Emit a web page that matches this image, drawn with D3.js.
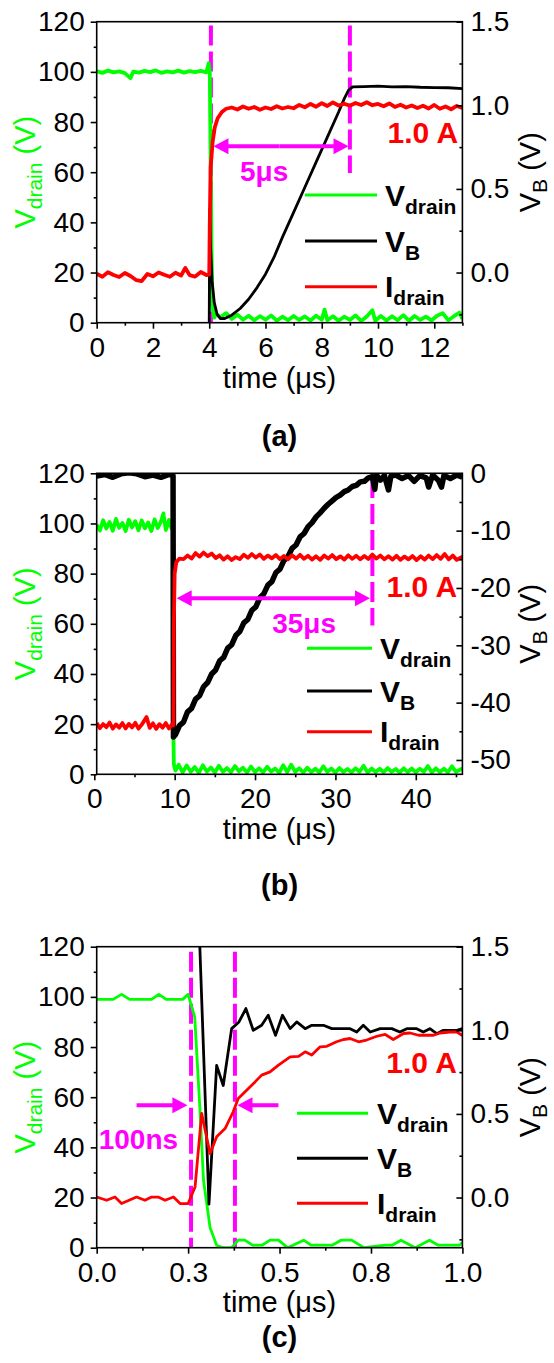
<!DOCTYPE html>
<html>
<head>
<meta charset="utf-8">
<script src="https://cdn.jsdelivr.net/npm/d3@7"></script>
<style>
  body { margin: 0; background: #fff; }
  svg text { font-family: "Liberation Sans", Arial, sans-serif; }
</style>
</head>
<body>
<svg id="fig" width="554" height="1363"></svg>
<script>
// ---------- panel (a) : 0..13 us ----------
const aVdrain = [[0,100.3],[0.2,99.6],[0.4,100.5],[0.6,99.8],[0.8,100.2],[1.0,99.5],[1.2,97.5],[1.3,100.1],[1.5,99.7],[1.7,100.4],[1.9,99.9],[2.1,100.6],[2.3,99.6],[2.5,100.2],[2.7,99.8],[2.9,100.5],[3.1,99.7],[3.3,100.3],[3.5,99.9],[3.7,100.4],[3.9,99.8],[3.98,103.5],[4.02,100],[4.05,66],[4.08,30],[4.12,6],[4.18,2],
  [4.25,3.5],[4.4,2.2],[4.6,3.8],[4.8,1.5],[5.0,3.2],[5.2,1.2],[5.4,2.8],[5.6,1.0],[5.8,2.6],[6.0,1.2],[6.2,2.9],[6.4,0.8],[6.6,2.4],[6.8,1.0],[7.0,2.7],[7.2,1.1],[7.4,2.5],[7.6,0.9],[7.8,2.8],[8.0,1.2],[8.1,5.2],[8.2,1.0],[8.4,2.6],[8.6,0.8],[8.8,2.4],[9.0,1.1],[9.2,2.9],[9.4,0.7],[9.6,2.5],[9.8,5.0],[9.9,0.8],[10.1,2.7],[10.3,0.9],[10.5,2.6],[10.7,1.0],[10.9,3.0],[11.1,0.8],[11.3,2.7],[11.5,1.1],[11.7,2.4],[11.9,0.9],[12.1,2.8],[12.3,3.8],[12.5,1.0],[12.7,2.6],[12.9,4.0],[13.0,1.5]];
const aIdrain = [[0,19.5],[0.2,18.3],[0.4,20.1],[0.6,19.0],[0.8,18.2],[1.0,19.8],[1.2,18.6],[1.4,17.0],[1.6,16.6],[1.8,19.4],[2.0,18.5],[2.2,20.0],[2.4,19.1],[2.6,18.3],[2.8,19.9],[3.0,18.8],[3.15,21.8],[3.3,19.0],[3.5,18.4],[3.7,20.2],[3.9,19.0],[4.0,19.2],[4.02,40],[4.05,62],[4.08,66],[4.12,72],[4.2,78],[4.3,81.5],[4.45,84],[4.6,85.3],[4.8,85.8],
  [5.0,85.0],[5.2,86.2],[5.4,85.3],[5.6,86.0],[5.8,84.9],[6.0,85.8],[6.2,85.2],[6.4,86.3],[6.6,85.4],[6.8,86.0],[7.0,85.5],[7.2,86.8],[7.4,85.9],[7.6,87.2],[7.8,86.1],[8.0,87.5],[8.2,86.4],[8.4,87.8],[8.6,86.6],[8.8,87.3],[9.0,86.5],[9.2,87.6],[9.4,86.8],[9.6,87.9],[9.8,86.7],[10.0,87.2],[10.2,86.3],[10.4,87.4],[10.6,86.0],[10.8,86.9],[11.0,85.8],[11.2,86.6],[11.4,85.6],[11.6,86.5],[11.8,85.4],[12.0,86.8],[12.2,85.3],[12.4,86.2],[12.6,85.1],[12.8,86.4],[13.0,85.6]];
const aVB = [[4.0,-0.3],[4.02,0.38],[4.05,0.15],[4.1,-0.05],[4.18,-0.18],[4.28,-0.25],[4.4,-0.275],[4.55,-0.275],[4.8,-0.255],[5.1,-0.215],[5.4,-0.16],[5.7,-0.09],[6.0,-0.01],[6.3,0.09],[6.6,0.21],[7.0,0.36],[7.4,0.51],[7.8,0.66],[8.2,0.81],[8.6,0.96],[8.8,1.04],[8.95,1.09],[9.1,1.11],[9.5,1.112],[10,1.115],[10.5,1.11],[11,1.112],[11.5,1.108],[12,1.106],[12.5,1.105],[13,1.1]];

// ---------- panel (b) : 0..45.8 us ----------
const bVdrain = [[0.3,99.5],[0.7,97.2],[1.1,101.3],[1.5,98.0],[1.9,100.6],[2.3,97.1],[2.7,101.8],[3.1,98.3],[3.5,100.2],[3.9,97.0],[4.3,101.5],[4.7,98.4],[5.1,100.9],[5.5,97.3],[5.9,101.2],[6.3,98.1],[6.7,100.4],[7.1,97.0],[7.5,101.6],[7.9,98.2],[8.3,100.8],[8.6,104.0],[8.9,97.4],[9.3,101.4],[9.6,98.0],[9.8,100.5],[9.85,15],[9.9,4],[10.1,1.5],
  [10.5,3.8],[11.0,0.8],[11.5,3.5],[12.0,1.0],[12.5,2.9],[13.0,0.6],[13.5,3.6],[14.0,1.1],[14.5,2.7],[15.0,0.7],[15.5,3.4],[16.0,1.0],[16.5,2.5],[17.0,0.8],[17.5,3.3],[18.0,1.2],[18.5,2.6],[19.0,0.7],[19.5,3.1],[20.0,0.9],[20.5,2.4],[21.0,0.8],[21.5,3.0],[22.0,1.1],[22.5,2.3],[23.0,0.6],[23.5,3.6],[24.0,0.9],[24.5,3.8],[25.0,1.0],[25.5,2.4],[26.0,0.7],[26.5,2.6],[27.0,0.9],[27.5,2.2],[28.0,0.8],[28.5,3.2],[29.0,1.0],[29.5,2.3],[30.0,0.7],[30.5,2.5],[31.0,0.9],[31.5,2.1],[32.0,0.8],[32.5,2.4],[33.0,1.0],[33.5,3.4],[34.0,0.7],[34.5,2.3],[35.0,0.9],[35.5,2.2],[36.0,0.8],[36.5,2.5],[37.0,1.0],[37.5,2.1],[38.0,0.7],[38.5,2.4],[39.0,0.9],[39.5,2.3],[40.0,0.8],[40.5,2.2],[41.0,1.0],[41.5,3.3],[42.0,0.7],[42.5,2.4],[43.0,0.9],[43.5,2.2],[44.0,0.8],[44.5,3.2],[45.0,1.0],[45.8,2.3]];
const bIdrain = [[0.3,20.5],[0.7,18.4],[1.1,20.0],[1.5,18.8],[1.9,20.6],[2.3,18.2],[2.7,19.9],[3.1,18.6],[3.5,20.4],[3.9,18.3],[4.3,20.1],[4.7,18.7],[5.1,20.5],[5.5,18.2],[5.9,19.8],[6.5,22.8],[6.9,18.5],[7.3,20.3],[7.7,18.1],[8.1,20.0],[8.5,18.6],[8.9,20.4],[9.3,18.3],[9.7,20.0],[9.85,19.5],[9.9,60],[10.0,80],[10.2,84.5],[10.6,86],[11.1,85.8],
  [11.6,87.2],[12.1,86.0],[12.6,88.2],[13.1,86.8],[13.6,88.4],[14.1,87.0],[14.6,88.0],[15.1,86.2],[15.6,87.3],[16.1,85.6],[16.6,86.9],[17.1,85.4],[17.6,86.6],[18.1,85.8],[18.6,87.5],[19.1,86.3],[19.6,87.8],[20.1,86.4],[20.6,87.6],[21.1,85.9],[21.6,87.2],[22.1,86.1],[22.6,87.4],[23.1,85.8],[23.6,87.0],[24.1,85.7],[24.6,87.3],[25.1,86.0],[25.6,87.5],[26.1,85.9],[26.6,87.1],[27.1,85.6],[27.6,86.9],[28.1,85.5],[28.6,87.2],[29.1,86.0],[29.6,87.4],[30.1,85.8],[30.6,86.9],[31.1,85.6],[31.6,87.3],[32.1,85.9],[32.6,87.1],[33.1,85.7],[33.6,87.0],[34.1,85.8],[34.6,87.6],[35.1,86.0],[35.6,87.2],[36.1,85.7],[36.6,86.9],[37.1,85.6],[37.6,87.1],[38.1,85.5],[38.6,86.8],[39.1,85.7],[39.6,87.0],[40.1,85.4],[40.6,86.9],[41.1,85.6],[41.6,87.2],[42.1,85.8],[42.6,87.4],[43.1,85.9],[43.6,87.8],[44.1,85.7],[44.6,87.2],[45.1,85.5],[45.8,86.8]];
const bVB = [[0.3,-0.5],[1.3,-0.2],[2.3,-0.7],[3.3,-0.1],[4.3,0.1],[5.3,-0.1],[6.3,-0.6],[7.3,-0.3],[8.3,-0.7],[9.3,-0.2],[9.8,-0.4],
  [9.85,-46.0],[10.1,-45.6],[10.6,-44.0],[11.1,-43.4],[11.6,-41.6],[12.1,-41.0],[12.6,-39.4],[13.1,-38.8],[13.6,-37.2],[14.1,-36.5],[14.6,-35.0],[15.1,-34.3],[15.6,-32.7],[16.1,-32.1],[16.6,-30.5],[17.1,-29.9],[17.6,-28.3],[18.1,-27.6],[18.6,-26.1],[19.1,-25.5],[19.6,-23.9],[20.1,-23.3],[20.6,-21.7],[21.1,-21.0],[21.6,-19.5],[22.1,-18.9],[22.6,-17.3],[23.1,-16.7],[23.6,-15.2],[24.1,-14.5],[24.6,-13.1],[25.1,-12.5],[25.6,-11.1],[26.1,-10.5],[26.6,-9.3],[27.1,-8.6],[27.6,-7.6],[28.1,-6.9],[28.6,-6.1],[29.1,-5.4],[29.6,-4.8],[30.1,-4.2],[30.6,-3.8],[31.1,-3.2],[31.6,-2.9],[32.1,-2.3],[32.6,-2.1],[33.1,-1.5],[33.6,-1.4],[34.1,-0.8],[34.6,-0.6],
  [34.9,-2.8],[35.1,-0.3],[35.6,-1.2],[36.1,-0.4],[36.6,-2.9],[36.9,-0.5],[37.5,-0.3],[38.3,-0.9],[39.1,-0.4],[39.8,-1.4],[40.5,-0.4],[41.3,-0.8],[41.6,-2.4],[42.1,-0.3],[42.8,-1.2],[43.2,-2.4],[43.5,-0.4],[44.3,-0.9],[45.1,-0.3],[45.8,-0.7]];

// ---------- panel (c) : 0..1 us ----------
const cVdrain = [[0,99],[0.045,99],[0.068,101],[0.09,99],[0.15,99],[0.17,101],[0.19,99],[0.235,99],[0.25,101],[0.268,92],[0.282,56],[0.292,27],[0.31,8],[0.328,1],[0.346,0],[0.369,0],[0.387,3],[0.405,3],[0.426,1],[0.452,1],[0.474,3],[0.497,3],[0.522,0],[0.566,3],[0.586,1],[0.644,1],[0.668,3],[0.697,3],[0.731,0],[0.789,1],[0.808,1],[0.832,3],[0.871,0],[0.91,3],[0.934,1],[0.992,1],[1.0,2]];
const cIdrain = [[0,20.2],[0.027,18.9],[0.05,20.2],[0.068,17.6],[0.109,20.2],[0.132,18.9],[0.15,20.2],[0.168,20.2],[0.187,18.9],[0.21,20.2],[0.228,17.6],[0.25,17.6],[0.269,24.2],[0.287,53.5],[0.31,37.5],[0.328,44.2],[0.351,47.5],[0.373,54.1],[0.387,59.5],[0.41,62.8],[0.433,66.1],[0.451,68.8],[0.474,70.1],[0.497,72.8],[0.529,76.1],[0.552,76.3],[0.57,78.1],[0.588,76.8],[0.611,80.1],[0.629,80.3],[0.656,82.1],[0.675,83.0],[0.693,83.4],[0.716,82.1],[0.738,82.8],[0.766,84.3],[0.789,85.0],[0.811,83.0],[0.839,85.4],[0.857,85.6],[0.88,84.7],[0.921,84.7],[0.939,85.6],[0.966,86.0],[0.985,86.0],[1.0,84.6]];
const cVB = [[0.27,1.8],[0.282,1.5],[0.307,-0.04],[0.328,0.79],[0.346,0.67],[0.369,1.01],[0.389,1.05],[0.408,1.13],[0.428,1.0],[0.451,1.03],[0.469,1.09],[0.489,0.97],[0.508,1.09],[0.529,1.01],[0.547,1.05],[0.57,1.01],[0.588,1.03],[0.62,1.03],[0.643,1.01],[0.693,1.01],[0.711,0.99],[0.729,1.03],[0.748,0.99],[0.775,1.01],[0.807,1.01],[0.829,0.99],[0.848,1.01],[0.875,1.01],[0.893,0.99],[0.911,1.01],[0.93,0.98],[0.948,1.0],[0.966,1.0],[0.985,1.0],[1.0,1.01]];

// axis ticks
const leftTicks = [0, 20, 40, 60, 80, 100, 120];
const leftMinor = [10, 30, 50, 70, 90, 110];
const aXTicks = [0, 2, 4, 6, 8, 10, 12], aXMinor = [1, 3, 5, 7, 9, 11, 13];
const bXTicks = [0, 10, 20, 30, 40], bXMinor = [5, 15, 25, 35, 45];
const cXTicks = [0, 0.25, 0.5, 0.75, 1.0], cXMinor = [0.125, 0.375, 0.625, 0.875];
const acRTicks = [0, 0.5, 1.0, 1.5], acRMinor = [-0.25, 0.25, 0.75, 1.25];
const bRTicks = [-50, -40, -30, -20, -10, 0], bRMinor = [-45, -35, -25, -15, -5];

const GREEN = "#00ff00", RED = "#ff0000", MAG = "#ff00ff";
const L = 96.7, R = 462.4, H = 301;
const FS = 28;

const svg = d3.select("#fig");

const panels = [
  { name: "(a)", top: 21.7, xDom: [0, 13], xT: aXTicks, xM: aXMinor, xF: d3.format("d"),
    rDom: [-0.3, 1.5], rT: acRTicks, rM: acRMinor, rF: d3.format(".1f"),
    green: aVdrain, red: aIdrain, black: aVB, wG: 3.8, wR: 3.8, wB: 2.8,
    dashes: [[4.06, 118.5, 0], [9.0, 118.5, 59.7]],
    arrows: [[6.5, 4.15, 70.3], [6.5, 8.95, 70.3]],
    note: ["5μs", 5.95, 56.4], amp: [12.85, 71.6],
    leg: { x1: 305, x2: 377, tx: 385, ys: [195, 241, 286.7] },
    labelY: 446, titleY: 388 },
  { name: "(b)", top: 473.3, xDom: [0.3, 45.8], xT: bXTicks, xM: bXMinor, xF: d3.format("d"),
    rDom: [-52.5, 0], rT: bRTicks, rM: bRMinor, rF: d => String(d),
    green: bVdrain, red: bIdrain, black: bVB, wG: 3.8, wR: 3.8, wB: 5.5,
    dashes: [[34.6, 118.1, 59.3]],
    arrows: [[22, 10.25, 70.2], [22, 34.3, 70.2]],
    note: ["35μs", 26.1, 56.3], amp: [45.15, 70.8],
    leg: { x1: 307, x2: 372, tx: 380, ys: [648.3, 691, 731.7] },
    labelY: 895, titleY: 839 },
  { name: "(c)", top: 946.7, xDom: [0, 1], xT: cXTicks, xM: cXMinor, xF: d3.format(".1f"),
    rDom: [-0.3, 1.5], rT: acRTicks, rM: acRMinor, rF: d3.format(".1f"),
    green: cVdrain, red: cIdrain, black: cVB, wG: 2.8, wR: 2.8, wB: 2.8,
    dashes: [[0.258, 118, 0], [0.378, 118, 0]],
    arrows: [[0.109, 0.248, 56.8], [0.497, 0.385, 56.8]],
    note: ["100ns", 0.114, 39.5], amp: [0.985, 69.5],
    leg: { x1: 297, x2: 368, tx: 377, ys: [1113.3, 1158.3, 1203.3] },
    labelY: 1347, titleY: 1312 }
];

panels.forEach((p, i) => drawPanel(p, i));

function drawPanel(p, i) {
  const x = d3.scaleLinear().domain(p.xDom).range([L, R]);
  const yL = d3.scaleLinear().domain([0, 120]).range([p.top + H, p.top]);
  const yR = d3.scaleLinear().domain(p.rDom).range([p.top + H, p.top]);
  const g = svg.append("g");

  g.append("clipPath").attr("id", "clip" + i)
    .append("rect").attr("x", L).attr("y", p.top).attr("width", R - L).attr("height", H);
  const plot = g.append("g").attr("clip-path", `url(#clip${i})`);

  // dashed guide lines
  p.dashes.forEach(d => {
    plot.append("line")
      .attr("x1", x(d[0])).attr("x2", x(d[0]))
      .attr("y1", yL(d[1])).attr("y2", yL(d[2]))
      .attr("stroke", MAG).attr("stroke-width", 4).attr("stroke-dasharray", "20,6");
  });

  const lineL = d3.line().x(d => x(d[0])).y(d => yL(d[1]));
  const lineR = d3.line().x(d => x(d[0])).y(d => yR(d[1]));

  plot.append("path").datum(p.green).attr("d", lineL)
    .attr("fill", "none").attr("stroke", GREEN).attr("stroke-width", p.wG).attr("stroke-linejoin", "round");
  plot.append("path").datum(p.black).attr("d", lineR)
    .attr("fill", "none").attr("stroke", "#000").attr("stroke-width", p.wB).attr("stroke-linejoin", "round");
  plot.append("path").datum(p.red).attr("d", lineL)
    .attr("fill", "none").attr("stroke", RED).attr("stroke-width", p.wR).attr("stroke-linejoin", "round");

  // arrows
  p.arrows.forEach(a => {
    const x0 = x(a[0]), x1 = x(a[1]), yy = yL(a[2]);
    const dir = Math.sign(x1 - x0);
    g.append("line").attr("x1", x0).attr("x2", x1 - dir * 10).attr("y1", yy).attr("y2", yy)
      .attr("stroke", MAG).attr("stroke-width", 4);
    g.append("path")
      .attr("d", `M${x1},${yy} L${x1 - dir * 15},${yy - 8} L${x1 - dir * 15},${yy + 8} Z`)
      .attr("fill", MAG);
  });

  g.append("text").attr("x", x(p.note[1])).attr("y", yL(p.note[2]))
    .attr("text-anchor", "middle").attr("font-size", 28).attr("font-weight", "bold")
    .attr("fill", MAG).text(p.note[0]);
  g.append("text").attr("x", x(p.amp[0])).attr("y", yL(p.amp[1]))
    .attr("text-anchor", "end").attr("font-size", 30).attr("font-weight", "bold")
    .attr("fill", RED).text("1.0 A");

  // legend
  const items = [["V", "drain", GREEN], ["V", "B", "#000"], ["I", "drain", RED]];
  items.forEach((it, k) => {
    const ly = p.leg.ys[k];
    g.append("line").attr("x1", p.leg.x1).attr("x2", p.leg.x2).attr("y1", ly).attr("y2", ly)
      .attr("stroke", it[2]).attr("stroke-width", 3);
    const t = g.append("text").attr("x", p.leg.tx).attr("y", ly + 10.5)
      .attr("font-size", 30).attr("font-weight", "bold").attr("fill", "#000");
    t.append("tspan").text(it[0]);
    t.append("tspan").attr("font-size", 21).attr("dy", 8).text(it[1]);
  });

  // frame
  g.append("rect").attr("x", L).attr("y", p.top).attr("width", R - L).attr("height", H)
    .attr("fill", "none").attr("stroke", "#000").attr("stroke-width", 1.6);

  const style = sel => {
    sel.attr("font-size", FS).attr("font-family", '"Liberation Sans", Arial, sans-serif');
    sel.select(".domain").remove();
    sel.selectAll(".tick line").attr("stroke-width", 1.6);
  };

  g.append("g").attr("transform", `translate(0,${p.top + H})`)
    .call(d3.axisBottom(x).tickValues(p.xT).tickFormat(p.xF).tickSize(6).tickPadding(8)).call(style);
  g.append("g").attr("transform", `translate(0,${p.top + H})`)
    .call(d3.axisBottom(x).tickValues(p.xM).tickFormat("").tickSize(3)).call(style);
  g.append("g").attr("transform", `translate(${L},0)`)
    .call(d3.axisLeft(yL).tickValues(leftTicks).tickFormat(d3.format("d")).tickSize(6).tickPadding(6)).call(style);
  g.append("g").attr("transform", `translate(${L},0)`)
    .call(d3.axisLeft(yL).tickValues(leftMinor).tickFormat("").tickSize(3)).call(style);
  g.append("g").attr("transform", `translate(${R},0)`)
    .call(d3.axisRight(yR).tickValues(p.rT).tickFormat(p.rF).tickSizeInner(-6).tickSizeOuter(0).tickPadding(8)).call(style);
  g.append("g").attr("transform", `translate(${R},0)`)
    .call(d3.axisRight(yR).tickValues(p.rM).tickFormat("").tickSizeInner(-3).tickSizeOuter(0)).call(style);

  // axis titles
  g.append("text").attr("x", (L + R) / 2).attr("y", p.titleY)
    .attr("text-anchor", "middle").attr("font-size", 29).text("time (μs)");

  const midY = p.top + H / 2;
  const yl = g.append("text").attr("transform", `translate(35,${midY}) rotate(-90)`)
    .attr("text-anchor", "middle").attr("font-size", 29).attr("fill", GREEN);
  yl.append("tspan").text("V");
  yl.append("tspan").attr("font-size", 21).attr("dy", 7).text("drain");
  yl.append("tspan").attr("dy", -7).text(" (V)");

  const yr = g.append("text").attr("transform", `translate(540,${midY}) rotate(-90)`)
    .attr("text-anchor", "middle").attr("font-size", 29).attr("fill", "#000");
  yr.append("tspan").text("V");
  yr.append("tspan").attr("font-size", 21).attr("dy", 7).text("B");
  yr.append("tspan").attr("dy", -7).text(" (V)");

  g.append("text").attr("x", (L + R) / 2).attr("y", p.labelY)
    .attr("text-anchor", "middle").attr("font-size", 29).attr("font-weight", "bold").text(p.name);
}
</script>
</body>
</html>
